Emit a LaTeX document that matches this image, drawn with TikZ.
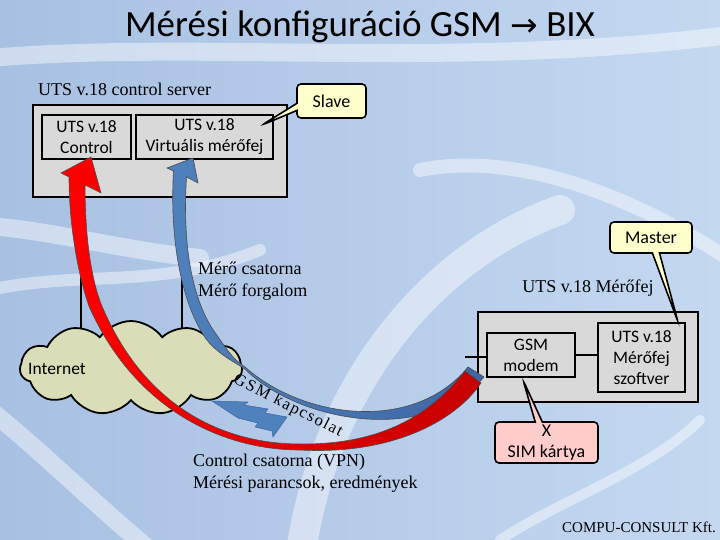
\documentclass[tikz,border=0pt]{standalone}
\usepackage{fontspec}
\setmainfont{Liberation Serif}
\newfontfamily\carlito{Carlito}
\newfontfamily\dejavu{DejaVu Sans}
\usepackage{tikz}
\usetikzlibrary{shapes.symbols,shapes.callouts,positioning}

\definecolor{bgleft}{RGB}{168,192,226}
\definecolor{bgmid}{RGB}{224,240,251}
\definecolor{bgright}{RGB}{196,216,240}
\definecolor{boxgray}{RGB}{217,217,217}
\definecolor{cloudfill}{RGB}{218,222,184}
\definecolor{noteyellow}{RGB}{255,255,204}
\definecolor{notepink}{RGB}{255,204,204}
\definecolor{ltblue}{RGB}{79,129,189}
\definecolor{dkblue}{RGB}{62,102,165}

\tikzset{
  box/.style={draw=black, line width=2.2pt, fill=boxgray, align=center,
    inner sep=0pt, font=\carlito\fontsize{17.5}{21}\selectfont},
  txt/.style={inner sep=0pt, align=left, font=\fontsize{18}{22}\selectfont},
  note/.style={rectangle callout, rounded corners=4pt, draw=black, line width=1.6pt,
    inner sep=0pt, align=center, font=\carlito\fontsize{18}{21}\selectfont},
  wire/.style={line width=2pt},
  wave/.style={white, opacity=0.45, line width=18pt, line cap=round},
  redarrow/.style={draw=black!70, line width=0.6pt, left color=red, right color=red!78!black},
  bluearrow/.style={draw=black!70, line width=0.6pt, left color=ltblue, right color=dkblue}
}

\begin{document}
\begin{tikzpicture}[x=1pt,y=-1pt]

% background
\useasboundingbox (0,0) rectangle (720,540);
\shade[left color=bgleft, middle color=bgmid, right color=bgright] (0,0) rectangle (720,540);
\begin{scope}
  \clip (0,0) rectangle (720,540);
  \draw[wave] (-10,58) .. controls (200,40) and (450,70) .. (730,35);
  \draw[wave] (-10,226) .. controls (60,232) and (120,250) .. (200,258);
  \draw[wave, line width=12pt] (-10,290) .. controls (80,270) and (160,290) .. (260,250);
  \draw[wave] (-10,410) .. controls (40,450) and (90,500) .. (150,550);
  \draw[wave, line width=30pt] (300,560) .. controls (320,400) and (420,260) .. (560,210);
  \draw[wave, line width=14pt] (420,170) .. controls (520,150) and (640,200) .. (730,260);
  \draw[wave, line width=10pt] (700,420) .. controls (650,470) and (560,500) .. (500,540);
\end{scope}

\node[font=\carlito\fontsize{37}{42}\selectfont] (title) at (360,27)
  {Mérési konfiguráció GSM {\dejavu\fontsize{33}{36}\selectfont →} BIX};

% control server
\node[txt, anchor=west] (srvlbl) at (38,89) {UTS v.18 control server};
\node[box, minimum width=254pt, minimum height=92pt] (srv) at (160,151) {};
\node[box, minimum width=89pt, minimum height=44pt] (ctl) at (86.5,137) {UTS v.18\\Control};
\node[box, minimum width=137pt, minimum height=44pt] (virt) at (204.5,137) {UTS v.18\\Virtuális mérőfej};

\draw[wire] ([xshift=49pt]srv.south west) -- ([xshift=49pt]srv.south west |- 0,368);
\draw[wire] ([xshift=150pt]srv.south west) -- ([xshift=150pt]srv.south west |- 0,368);

% internet
\node[cloud, cloud puffs=11, cloud puff arc=110, aspect=2.4, draw=black, line width=1.8pt,
  fill=cloudfill, minimum width=222pt, minimum height=94pt] (inet) at (131,368) {};
\node[anchor=west, inner sep=0pt, font=\carlito\fontsize{17.5}{21}\selectfont] (inetlbl)
  at (28,369) {Internet};

% GSM link
\fill[ltblue, draw=dkblue, line width=0.5pt] (212,401) -- (248,402) -- (244,405) -- (268,409)
  -- (265,413) -- (287,417) -- (273,437) -- (272,431) -- (255,427) -- (258,423) -- (238,418) -- cycle;
\node[rotate=-27, inner sep=0pt, font=\fontsize{16.5}{20}\selectfont\addfontfeature{LetterSpace=10}]
  (gsmlbl) at (288,406) {GSM kapcsolat};

\node[txt, anchor=north west] (merolbl) at (198,262) {Mérő csatorna\\Mérő forgalom};
\node[txt, anchor=north west] (ctllbl) at (193,454) {Control csatorna (VPN)\\Mérési parancsok, eredmények};

% measurement head
\node[txt] (headlbl) at (588,288) {UTS v.18 Mérőfej};
\node[box, minimum width=220pt, minimum height=90pt] (head) at (588,357) {};
\node[box, minimum width=88pt, minimum height=44pt] (modem) at (531,355) {GSM\\modem};
\node[box, minimum width=87pt, minimum height=69pt] (soft) at (641.5,357.5) {UTS v.18\\Mérőfej\\szoftver};
\coordinate (gsmin) at (465,357);
\draw[wire] (gsmin) -- (gsmin -| modem.west);
\draw[wire] (modem.east) -- (modem.east -| soft.west);

% channels
\draw[bluearrow] (193,158) -- (198,183) -- (186.5,177)
  .. controls (182.5,240.4) and (190.5,296.9) .. (214.5,331.9)
  .. controls (224.5,345.9) and (232.4,359.3) .. (245.4,367.3)
  .. controls (302.1,417.8) and (413.1,434.3) .. (468,367)
  -- (484,377)
  .. controls (426.9,445.7) and (297.9,422.2) .. (244.6,368.7)
  .. controls (231.6,360.7) and (215.5,352.1) .. (205.5,338.1)
  .. controls (181.5,303.1) and (169.5,239.6) .. (173.5,171)
  -- (167,168) -- cycle;
\draw[redarrow] (91,157) -- (101,193) -- (85,185)
  .. controls (85,230) and (89.6,272.8) .. (100.6,302.8)
  .. controls (143.7,408.4) and (225,444) .. (300,444)
  .. controls (390,445) and (435.4,407.9) .. (465,371.1)
  -- (481,382.9)
  .. controls (454.6,422.1) and (390,455) .. (300,450)
  .. controls (225,450) and (136.3,411.6) .. (89.4,307.2)
  .. controls (78.4,277.2) and (69,225) .. (69,177)
  -- (61,173) -- cycle;

% notes
\node[note, fill=noteyellow, minimum width=69pt, minimum height=34pt,
  callout absolute pointer={(262,125)}] (slave) at (331.5,101) {Slave};
\node[note, fill=noteyellow, minimum width=82pt, minimum height=31pt,
  callout absolute pointer={(678,322)}] (master) at (651,237.5) {Master};
\node[note, fill=notepink, minimum width=103pt, minimum height=41pt,
  callout absolute pointer={(523,380)}] (sim) at (546.5,442.5) {X\\SIM kártya};

\node[anchor=east, inner sep=0pt, font=\fontsize{15}{17}\selectfont] (firm) at (716,527) {COMPU-CONSULT Kft.};

\end{tikzpicture}
\end{document}
